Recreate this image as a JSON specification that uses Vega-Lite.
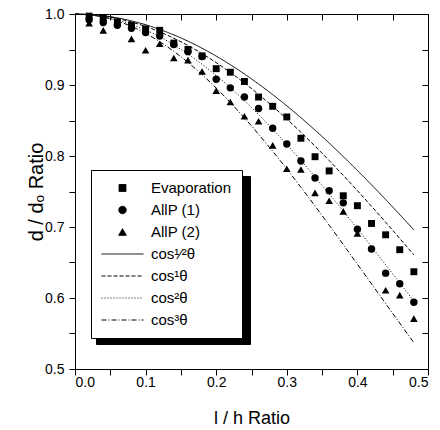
{
  "$schema": "https://vega.github.io/schema/vega-lite/v6.json",
  "width": 353,
  "height": 355,
  "autosize": {"type": "none"},
  "padding": {"left": 75, "top": 14, "right": 12, "bottom": 61},
  "background": "white",
  "config": {
    "view": {"stroke": "black", "strokeWidth": 1},
    "font": "Liberation Sans",
    "axis": {
      "grid": false, "domainColor": "black", "tickColor": "black", "labelColor": "black",
      "titleColor": "black", "labelFont": "Liberation Sans", "titleFont": "Liberation Sans",
      "labelFontSize": 14, "titleFontSize": 18, "titleFontWeight": "normal",
      "tickSize": 6, "labelPadding": 2, "domainWidth": 1, "tickWidth": 1
    }
  },
  "datasets": {
    "points": [
      {"series": "Evaporation", "x": 0.02, "y": 0.997},
      {"series": "Evaporation", "x": 0.04, "y": 0.994},
      {"series": "Evaporation", "x": 0.06, "y": 0.989},
      {"series": "Evaporation", "x": 0.08, "y": 0.984},
      {"series": "Evaporation", "x": 0.10, "y": 0.979},
      {"series": "Evaporation", "x": 0.12, "y": 0.977},
      {"series": "Evaporation", "x": 0.14, "y": 0.959},
      {"series": "Evaporation", "x": 0.16, "y": 0.950},
      {"series": "Evaporation", "x": 0.18, "y": 0.941},
      {"series": "Evaporation", "x": 0.20, "y": 0.923},
      {"series": "Evaporation", "x": 0.22, "y": 0.918},
      {"series": "Evaporation", "x": 0.24, "y": 0.905},
      {"series": "Evaporation", "x": 0.26, "y": 0.883},
      {"series": "Evaporation", "x": 0.28, "y": 0.870},
      {"series": "Evaporation", "x": 0.30, "y": 0.855},
      {"series": "Evaporation", "x": 0.32, "y": 0.825},
      {"series": "Evaporation", "x": 0.34, "y": 0.799},
      {"series": "Evaporation", "x": 0.36, "y": 0.779},
      {"series": "Evaporation", "x": 0.38, "y": 0.744},
      {"series": "Evaporation", "x": 0.40, "y": 0.730},
      {"series": "Evaporation", "x": 0.42, "y": 0.705},
      {"series": "Evaporation", "x": 0.44, "y": 0.689},
      {"series": "Evaporation", "x": 0.46, "y": 0.668},
      {"series": "Evaporation", "x": 0.48, "y": 0.637},
      {"series": "AllP (1)", "x": 0.02, "y": 0.992},
      {"series": "AllP (1)", "x": 0.04, "y": 0.988},
      {"series": "AllP (1)", "x": 0.06, "y": 0.984},
      {"series": "AllP (1)", "x": 0.08, "y": 0.980},
      {"series": "AllP (1)", "x": 0.10, "y": 0.974},
      {"series": "AllP (1)", "x": 0.12, "y": 0.969},
      {"series": "AllP (1)", "x": 0.14, "y": 0.957},
      {"series": "AllP (1)", "x": 0.16, "y": 0.947},
      {"series": "AllP (1)", "x": 0.18, "y": 0.940},
      {"series": "AllP (1)", "x": 0.20, "y": 0.908},
      {"series": "AllP (1)", "x": 0.22, "y": 0.896},
      {"series": "AllP (1)", "x": 0.24, "y": 0.883},
      {"series": "AllP (1)", "x": 0.26, "y": 0.867},
      {"series": "AllP (1)", "x": 0.28, "y": 0.839},
      {"series": "AllP (1)", "x": 0.30, "y": 0.817},
      {"series": "AllP (1)", "x": 0.32, "y": 0.793},
      {"series": "AllP (1)", "x": 0.34, "y": 0.769},
      {"series": "AllP (1)", "x": 0.36, "y": 0.751},
      {"series": "AllP (1)", "x": 0.38, "y": 0.734},
      {"series": "AllP (1)", "x": 0.40, "y": 0.697},
      {"series": "AllP (1)", "x": 0.42, "y": 0.669},
      {"series": "AllP (1)", "x": 0.44, "y": 0.635},
      {"series": "AllP (1)", "x": 0.46, "y": 0.620},
      {"series": "AllP (1)", "x": 0.48, "y": 0.594},
      {"series": "AllP (2)", "x": 0.02, "y": 0.987},
      {"series": "AllP (2)", "x": 0.04, "y": 0.977},
      {"series": "AllP (2)", "x": 0.08, "y": 0.965},
      {"series": "AllP (2)", "x": 0.10, "y": 0.949},
      {"series": "AllP (2)", "x": 0.12, "y": 0.958},
      {"series": "AllP (2)", "x": 0.14, "y": 0.938},
      {"series": "AllP (2)", "x": 0.16, "y": 0.935},
      {"series": "AllP (2)", "x": 0.18, "y": 0.919},
      {"series": "AllP (2)", "x": 0.20, "y": 0.892},
      {"series": "AllP (2)", "x": 0.22, "y": 0.876},
      {"series": "AllP (2)", "x": 0.24, "y": 0.856},
      {"series": "AllP (2)", "x": 0.26, "y": 0.849},
      {"series": "AllP (2)", "x": 0.28, "y": 0.815},
      {"series": "AllP (2)", "x": 0.30, "y": 0.782},
      {"series": "AllP (2)", "x": 0.32, "y": 0.781},
      {"series": "AllP (2)", "x": 0.34, "y": 0.748},
      {"series": "AllP (2)", "x": 0.36, "y": 0.737},
      {"series": "AllP (2)", "x": 0.38, "y": 0.722},
      {"series": "AllP (2)", "x": 0.40, "y": 0.691},
      {"series": "AllP (2)", "x": 0.44, "y": 0.611},
      {"series": "AllP (2)", "x": 0.46, "y": 0.604},
      {"series": "AllP (2)", "x": 0.48, "y": 0.571}
    ],
    "curves": [
      {"series": "cos¹⁄²θ", "x": 0.00, "y": 1.0},
      {"series": "cos¹⁄²θ", "x": 0.04, "y": 0.9976},
      {"series": "cos¹⁄²θ", "x": 0.08, "y": 0.9903},
      {"series": "cos¹⁄²θ", "x": 0.12, "y": 0.9783},
      {"series": "cos¹⁄²θ", "x": 0.16, "y": 0.9617},
      {"series": "cos¹⁄²θ", "x": 0.20, "y": 0.9407},
      {"series": "cos¹⁄²θ", "x": 0.24, "y": 0.9155},
      {"series": "cos¹⁄²θ", "x": 0.28, "y": 0.8865},
      {"series": "cos¹⁄²θ", "x": 0.32, "y": 0.8539},
      {"series": "cos¹⁄²θ", "x": 0.36, "y": 0.8182},
      {"series": "cos¹⁄²θ", "x": 0.40, "y": 0.7796},
      {"series": "cos¹⁄²θ", "x": 0.44, "y": 0.7387},
      {"series": "cos¹⁄²θ", "x": 0.48, "y": 0.6959},
      {"series": "cos¹θ", "x": 0.00, "y": 1.0},
      {"series": "cos¹θ", "x": 0.04, "y": 0.9972},
      {"series": "cos¹θ", "x": 0.08, "y": 0.9887},
      {"series": "cos¹θ", "x": 0.12, "y": 0.9748},
      {"series": "cos¹θ", "x": 0.16, "y": 0.9557},
      {"series": "cos¹θ", "x": 0.20, "y": 0.9315},
      {"series": "cos¹θ", "x": 0.24, "y": 0.9028},
      {"series": "cos¹θ", "x": 0.28, "y": 0.8699},
      {"series": "cos¹θ", "x": 0.32, "y": 0.8334},
      {"series": "cos¹θ", "x": 0.36, "y": 0.7936},
      {"series": "cos¹θ", "x": 0.40, "y": 0.7512},
      {"series": "cos¹θ", "x": 0.44, "y": 0.7067},
      {"series": "cos¹θ", "x": 0.48, "y": 0.6607},
      {"series": "cos²θ", "x": 0.00, "y": 1.0},
      {"series": "cos²θ", "x": 0.04, "y": 0.9964},
      {"series": "cos²θ", "x": 0.08, "y": 0.9856},
      {"series": "cos²θ", "x": 0.12, "y": 0.9679},
      {"series": "cos²θ", "x": 0.16, "y": 0.9436},
      {"series": "cos²θ", "x": 0.20, "y": 0.9134},
      {"series": "cos²θ", "x": 0.24, "y": 0.8779},
      {"series": "cos²θ", "x": 0.28, "y": 0.8377},
      {"series": "cos²θ", "x": 0.32, "y": 0.7937},
      {"series": "cos²θ", "x": 0.36, "y": 0.7467},
      {"series": "cos²θ", "x": 0.40, "y": 0.6975},
      {"series": "cos²θ", "x": 0.44, "y": 0.6469},
      {"series": "cos²θ", "x": 0.48, "y": 0.5956},
      {"series": "cos³θ", "x": 0.00, "y": 1.0},
      {"series": "cos³θ", "x": 0.04, "y": 0.9956},
      {"series": "cos³θ", "x": 0.08, "y": 0.9825},
      {"series": "cos³θ", "x": 0.12, "y": 0.9610},
      {"series": "cos³θ", "x": 0.16, "y": 0.9318},
      {"series": "cos³θ", "x": 0.20, "y": 0.8957},
      {"series": "cos³θ", "x": 0.24, "y": 0.8536},
      {"series": "cos³θ", "x": 0.28, "y": 0.8067},
      {"series": "cos³θ", "x": 0.32, "y": 0.7559},
      {"series": "cos³θ", "x": 0.36, "y": 0.7026},
      {"series": "cos³θ", "x": 0.40, "y": 0.6476},
      {"series": "cos³θ", "x": 0.44, "y": 0.5921},
      {"series": "cos³θ", "x": 0.48, "y": 0.5370}
    ]
  },
  "resolve": {"axis": {"x": "independent", "y": "independent"}},
  "layer": [
    {
      "data": {"name": "curves"},
      "mark": {"type": "line", "strokeWidth": 1, "interpolate": "monotone"},
      "encoding": {
        "x": {
          "field": "x", "type": "quantitative",
          "scale": {"domain": [0, 0.5], "nice": false, "zero": false},
          "axis": {
            "orient": "bottom", "title": "l / h Ratio", "titlePadding": 20, "labelPadding": 0,
            "values": [0, 0.05, 0.1, 0.15, 0.2, 0.25, 0.3, 0.35, 0.4, 0.45, 0.5],
            "labelExpr": "round(datum.value*20) % 2 == 0 ? format(datum.value, '.1f') : ''"
          }
        },
        "y": {
          "field": "y", "type": "quantitative",
          "scale": {"domain": [0.5, 1.0], "nice": false, "zero": false},
          "axis": {
            "orient": "left", "title": "d / dₒ Ratio", "titlePadding": -2, "titleFontSize": 20, "labelPadding": 5,
            "values": [0.5, 0.55, 0.6, 0.65, 0.7, 0.75, 0.8, 0.85, 0.9, 0.95, 1.0],
            "labelExpr": "round(datum.value*20) % 2 == 0 ? format(datum.value, '.1f') : ''"
          }
        },
        "strokeDash": {
          "field": "series", "type": "nominal",
          "scale": {
            "domain": ["Evaporation", "AllP (1)", "AllP (2)", "cos¹⁄²θ", "cos¹θ", "cos²θ", "cos³θ"],
            "range": [[1, 0], [1, 0], [1, 0], [1, 0], [4, 2], [1, 2], [5, 2, 1, 2]]
          },
          "legend": {
            "title": null, "orient": "none", "legendX": 16, "legendY": 156,
            "fillColor": "white", "strokeColor": "black", "padding": 10,
            "labelFontSize": 15, "labelFont": "Liberation Sans", "labelColor": "black",
            "clipHeight": 16, "rowPadding": 6, "labelOffset": 7,
            "symbolStrokeColor": "black", "symbolFillColor": "black", "symbolStrokeWidth": 1, "zindex": 2,
            "encode": {"symbols": {"update": {"stroke": {"value": "black"}, "strokeWidth": {"value": 1}, "fill": {"value": "black"}, "opacity": {"value": 1}}}}
          }
        },
        "color": {
          "field": "series", "type": "nominal",
          "scale": {
            "domain": ["cos³θ", "cos²θ", "cos¹θ", "cos¹⁄²θ", "AllP (2)", "AllP (1)", "Evaporation"],
            "range": ["black", "black", "black", "black", "black", "black", "black"]
          },
          "legend": {
            "title": null, "orient": "none", "legendX": 21, "legendY": 162,
            "fillColor": "black", "strokeColor": "black", "padding": 10,
            "labelExpr": "''", "labelOffset": 0,
            "clipHeight": 16, "rowPadding": 6,
            "symbolType": "stroke", "symbolSize": 17424, "symbolStrokeColor": "black", "zindex": 1
          }
        }
      }
    },
    {
      "data": {"name": "points"},
      "mark": {"type": "point", "filled": true, "color": "black", "opacity": 1},
      "encoding": {
        "x": {"field": "x", "type": "quantitative", "axis": null},
        "y": {"field": "y", "type": "quantitative", "axis": null},
        "shape": {
          "field": "series", "type": "nominal",
          "scale": {
            "domain": ["Evaporation", "AllP (1)", "AllP (2)", "cos¹⁄²θ", "cos¹θ", "cos²θ", "cos³θ"],
            "range": ["square", "circle", "triangle-up", "stroke", "stroke", "stroke", "stroke"]
          },
          "legend": {
            "title": null, "orient": "none", "legendX": 16, "legendY": 156,
            "fillColor": "white", "strokeColor": "black", "padding": 10,
            "labelFontSize": 15, "labelFont": "Liberation Sans", "labelColor": "black",
            "clipHeight": 16, "rowPadding": 6, "labelOffset": 7,
            "symbolStrokeColor": "black", "symbolFillColor": "black", "symbolStrokeWidth": 1, "zindex": 2,
            "encode": {"symbols": {"update": {"stroke": {"value": "black"}, "strokeWidth": {"value": 1}, "fill": {"value": "black"}, "opacity": {"value": 1}}}}
          }
        },
        "size": {
          "field": "series", "type": "nominal",
          "scale": {
            "type": "ordinal",
            "domain": ["Evaporation", "AllP (1)", "AllP (2)", "cos¹⁄²θ", "cos¹θ", "cos²θ", "cos³θ"],
            "range": [48, 55, 58, 1764, 1764, 1764, 1764]
          },
          "legend": {
            "title": null, "orient": "none", "legendX": 16, "legendY": 156,
            "fillColor": "white", "strokeColor": "black", "padding": 10,
            "labelFontSize": 15, "labelFont": "Liberation Sans", "labelColor": "black",
            "clipHeight": 16, "rowPadding": 6, "labelOffset": 7,
            "symbolStrokeColor": "black", "symbolFillColor": "black", "symbolStrokeWidth": 1, "zindex": 2,
            "encode": {"symbols": {"update": {"stroke": {"value": "black"}, "strokeWidth": {"value": 1}, "fill": {"value": "black"}, "opacity": {"value": 1}}}}
          }
        }
      }
    },
    {
      "data": {"name": "curves"},
      "mark": {"type": "point", "opacity": 0},
      "encoding": {
        "x": {
          "field": "x", "type": "quantitative",
          "axis": {
            "orient": "top", "title": null, "labels": false, "tickSize": -6,
            "values": [0, 0.05, 0.1, 0.15, 0.2, 0.25, 0.3, 0.35, 0.4, 0.45, 0.5]
          }
        },
        "y": {
          "field": "y", "type": "quantitative",
          "axis": {
            "orient": "right", "title": null, "labels": false, "tickSize": -6,
            "values": [0.5, 0.55, 0.6, 0.65, 0.7, 0.75, 0.8, 0.85, 0.9, 0.95, 1.0]
          }
        }
      }
    }
  ]
}
